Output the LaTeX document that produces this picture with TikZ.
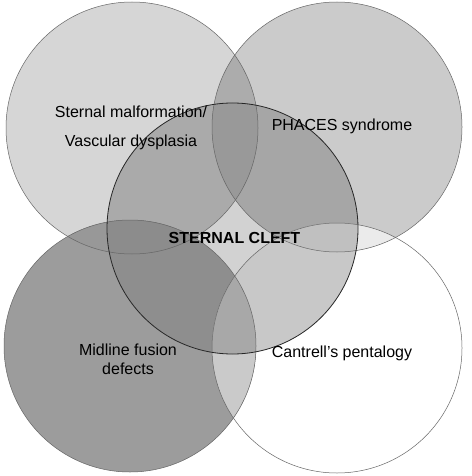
\documentclass[tikz,border=0pt]{standalone}
\usepackage{fontspec}
\setmainfont{Liberation Sans}
\definecolor{cTL}{RGB}{214,214,214}
\definecolor{cTR}{RGB}{203,203,203}
\definecolor{cBL}{RGB}{156,156,156}
\definecolor{cC}{RGB}{210,210,210}
\definecolor{cTLTR}{RGB}{172,172,172}
\definecolor{cTLC}{RGB}{170,170,170}
\definecolor{cTRC}{RGB}{166,166,166}
\definecolor{cTLTRC}{RGB}{153,153,153}
\definecolor{cBLC}{RGB}{142,142,142}
\definecolor{cBLTL}{RGB}{152,152,152}
\definecolor{cBLTLC}{RGB}{140,140,140}
\definecolor{cBRBL}{RGB}{202,202,202}
\definecolor{cBRBLC}{RGB}{168,168,168}
\definecolor{cBRC}{RGB}{200,200,200}
\definecolor{cBRTR}{RGB}{235,235,235}
\definecolor{cBRTRC}{RGB}{192,192,192}
\begin{document}
\begin{tikzpicture}[x=1pt,y=-1pt,
  outer/.style={draw=black!60,line width=0.5pt},
  inner/.style={draw=black!85,line width=0.8pt},
  lbl/.style={font=\fontsize{16}{29}\selectfont,align=center,inner sep=0pt}]
\useasboundingbox (0,0) rectangle (471,476);
\fill[white] (0,0) rectangle (471,476);
\coordinate (TL) at (132,128);
\coordinate (TR) at (337,127);
\coordinate (BL) at (130,346);
\coordinate (BR) at (337,348);
\coordinate (C) at (232.5,228.5);
% base fills
\fill[cTL] (TL) circle[radius=126];
\fill[cTR] (TR) circle[radius=125];
\fill[cBL] (BL) circle[radius=126];
\fill[cC] (C) circle[radius=125.5];
% pairwise overlaps
\begin{scope}\clip (TL) circle[radius=126]; \fill[cTLTR] (TR) circle[radius=125]; \end{scope}
\begin{scope}\clip (TL) circle[radius=126]; \fill[cTLC] (C) circle[radius=125.5]; \end{scope}
\begin{scope}\clip (TR) circle[radius=125]; \fill[cTRC] (C) circle[radius=125.5]; \end{scope}
\begin{scope}\clip (BL) circle[radius=126]; \fill[cBLC] (C) circle[radius=125.5]; \end{scope}
\begin{scope}\clip (BL) circle[radius=126]; \fill[cBLTL] (TL) circle[radius=126]; \end{scope}
\begin{scope}\clip (BR) circle[radius=125]; \fill[cBRBL] (BL) circle[radius=126]; \end{scope}
\begin{scope}\clip (BR) circle[radius=125]; \fill[cBRC] (C) circle[radius=125.5]; \end{scope}
\begin{scope}\clip (BR) circle[radius=125]; \fill[cBRTR] (TR) circle[radius=125]; \end{scope}
% triple overlaps
\begin{scope}\clip (TL) circle[radius=126]; \clip (TR) circle[radius=125]; \fill[cTLTRC] (C) circle[radius=125.5]; \end{scope}
\begin{scope}\clip (BL) circle[radius=126]; \clip (TL) circle[radius=126]; \fill[cBLTLC] (C) circle[radius=125.5]; \end{scope}
\begin{scope}\clip (BR) circle[radius=125]; \clip (BL) circle[radius=126]; \fill[cBRBLC] (C) circle[radius=125.5]; \end{scope}
\begin{scope}\clip (BR) circle[radius=125]; \clip (TR) circle[radius=125]; \fill[cBRTRC] (C) circle[radius=125.5]; \end{scope}
% outlines
\draw[outer] (TL) circle[radius=126];
\draw[outer] (TR) circle[radius=125];
\draw[outer] (BL) circle[radius=126];
\draw[outer] (BR) circle[radius=125];
\draw[inner] (C) circle[radius=125.5];
% labels
\node[lbl] (tl) at (131,127.5) {Sternal malformation/\\Vascular dysplasia};
\node[lbl] (tr) at (342,126) {PHACES syndrome};
\node[lbl,font=\fontsize{16}{19}\bfseries\selectfont] (c) at (234.5,238) {STERNAL CLEFT};
\node[lbl,font=\fontsize{16}{19}\selectfont] (bl) at (128,359.5) {Midline fusion\\defects};
\node[lbl] (br) at (342,353) {Cantrell’s pentalogy};
\end{tikzpicture}
\end{document}
